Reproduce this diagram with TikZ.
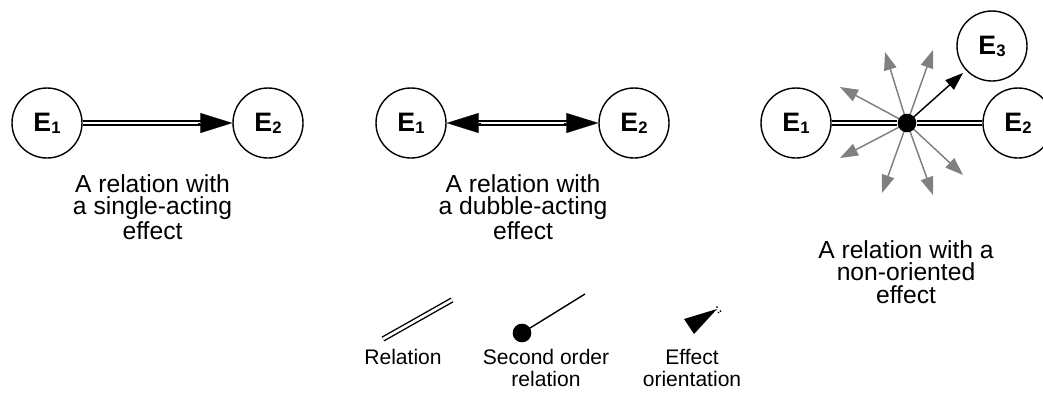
\documentclass[tikz,border=0pt]{standalone}
\usepackage{fontspec}
\setmainfont{Liberation Sans}
\usetikzlibrary{arrows.meta,calc}
\newcommand\Esub[1]{E\raisebox{-1.6pt}{\fontsize{12.5}{12.5}\selectfont #1}}
\begin{document}
\begin{tikzpicture}[x=0.75pt,y=-0.75pt,
  ent/.style={circle,draw,line width=1.05pt,minimum size=52.5pt,inner sep=0pt,font=\fontsize{20}{20}\selectfont\bfseries},
  rel/.style={double,line width=1.05pt,double distance=2pt},
  bighead/.style={-{Triangle[length=24pt,width=15pt]},line width=0.1pt},
  effarrow/.style={line width=1.1pt,-{Triangle[length=13.5pt,width=9.5pt]}},
  greyarrow/.style={effarrow,draw=gray,fill=gray},
  blackarrow/.style={effarrow,draw=black,fill=black},
  hub/.style={circle,fill=black,inner sep=0pt,minimum size=14pt},
  caption/.style={align=center,font=\fontsize{18.5}{16.8}\selectfont},
  legend/.style={align=center,font=\fontsize{15.8}{16.5}\selectfont}]
\useasboundingbox (0,0) rectangle (1043,394);

% Panel 1
\node[ent] (a1) at (47,123) {\Esub{1}};
\node[ent] (b1) at (268,123) {\Esub{2}};
\draw[rel,shorten >=15pt] (a1) -- (b1);
\coordinate (a1h) at ($(b1.west)+(-34,0)$);
\draw[bighead] (a1h) -- (b1.west);
\node[caption] (t1) at (152.5,207) {A relation with\\a single-acting\\effect};

% Panel 2
\node[ent] (a2) at (411,123) {\Esub{1}};
\node[ent] (b2) at (634,123) {\Esub{2}};
\draw[rel,shorten >=15pt,shorten <=15pt] (a2) -- (b2);
\coordinate (a2h) at ($(b2.west)+(-34,0)$);
\coordinate (b2h) at ($(a2.east)+(34,0)$);
\draw[bighead] (a2h) -- (b2.west);
\draw[bighead] (b2h) -- (a2.east);
\node[caption] (t2) at (523,207) {A relation with\\a dubble-acting\\effect};

% Panel 3
\node[ent] (a3) at (796,123) {\Esub{1}};
\node[ent] (b3) at (1018,123) {\Esub{2}};
\node[ent] (c3) at (992,46) {\Esub{3}};
\coordinate (h) at (907,123);
\coordinate (g1) at (885,52);
\coordinate (g2) at (933,50);
\coordinate (g3) at (840,87);
\coordinate (g4) at (840,158);
\coordinate (g5) at (882,193);
\coordinate (g6) at (933,195);
\coordinate (g7) at (963,175);
\foreach \g in {g1,g2,g3,g4,g5,g6,g7} \draw[greyarrow] (h) -- (\g);
\coordinate (e3) at (963,73);
\draw[blackarrow] (h) -- (e3);
\node[hub] (hn) at (h) {};
\draw[rel] (a3) -- (hn);
\draw[rel] (hn) -- (b3);
\node[caption] (t3) at (906,272) {A relation with a\\non-oriented\\effect};

% Legend
\coordinate (r1) at (383,339);
\coordinate (r2) at (452,300);
\draw[rel] (r1) -- (r2);
\node[legend] (lr) at (403,357) {Relation};

\node[hub] (sd) at (522,333) {};
\coordinate (se) at (585,294);
\draw[line width=1.05pt] (sd.center) -- (se);
\node[legend] (ls) at (546,368) {Second order\\relation};

\fill (684,319) -- (717,309) -- (694,334) -- cycle;
\fill (717,307) circle (1);
\fill (720.5,311) circle (1);
\fill (718.5,312.5) circle (0.8);
\node[legend] (le) at (692,368) {Effect\\orientation};
\end{tikzpicture}
\end{document}
